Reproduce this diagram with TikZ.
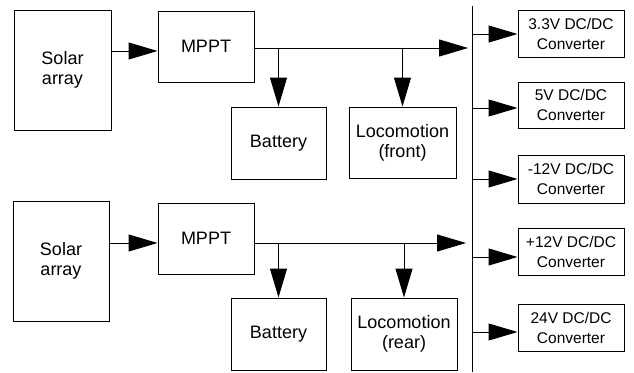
\documentclass[tikz,border=0pt]{standalone}
\usepackage{fontspec}
\setmainfont{Liberation Sans}
\usetikzlibrary{arrows.meta}
\begin{document}
\begin{tikzpicture}[x=1pt,y=-1pt,
  box/.style={draw,line width=1pt,align=center,inner sep=0pt,
    font=\fontsize{18}{20}\selectfont},
  conv/.style={draw,line width=1pt,align=center,inner sep=0pt,
    minimum width=106pt,font=\fontsize{15.5}{20}\selectfont},
  arr/.style={line width=1pt,-{Triangle[length=29pt,width=17pt]}},
  ln/.style={line width=1pt}]
\useasboundingbox (0,0) rectangle (634,372);
% top chain
\node[box,minimum width=97pt,minimum height=120pt] (sa1) at (62.5,70) {Solar\\array};
\node[box,minimum width=96pt,minimum height=71pt] (mp1) at (206,46.5) {MPPT};
\node[box,minimum width=95pt,minimum height=72pt] (bat1) at (278.5,143) {Battery};
\node[box,minimum width=107pt,minimum height=71pt] (loc1) at (402.5,142.5) {Locomotion\\(front)};
% bottom chain
\node[box,minimum width=96pt,minimum height=120pt] (sa2) at (61,261) {Solar\\array};
\node[box,minimum width=96pt,minimum height=71pt] (mp2) at (206,238.5) {MPPT};
\node[box,minimum width=95pt,minimum height=72pt] (bat2) at (278.5,334) {Battery};
\node[box,minimum width=106pt,minimum height=72pt] (loc2) at (404,334) {Locomotion\\(rear)};
% converters
\node[conv,minimum height=47pt] (c1) at (571,33.5) {3.3V DC/DC\\Converter};
\node[conv,minimum height=46pt] (c2) at (571,105) {5V DC/DC\\Converter};
\node[conv,minimum height=48pt] (c3) at (571,179) {-12V DC/DC\\Converter};
\node[conv,minimum height=47pt] (c4) at (571,251.5) {+12V DC/DC\\Converter};
\node[conv,minimum height=47pt] (c5) at (571,327.5) {24V DC/DC\\Converter};
% bus
\coordinate (bustop) at (472,6);
\coordinate (busbot) at (472,372);
\draw[ln] (bustop) -- (busbot);
% top connections
\coordinate (s1) at (0,51);
\draw[arr] (sa1.east |- s1) -- (mp1.west |- s1);
\coordinate (o1) at (0,48);
\coordinate (t1) at (468,48);
\draw[arr] (mp1.east |- o1) -- (t1);
\draw[arr] (bat1.north |- o1) -- (bat1.north);
\draw[arr] (loc1.north |- o1) -- (loc1.north);
% bottom connections
\coordinate (s2) at (0,243);
\draw[arr] (sa2.east |- s2) -- (mp2.west |- s2);
\coordinate (t2) at (466,243);
\draw[arr] (mp2.east |- s2) -- (t2);
\draw[arr] (bat2.north |- s2) -- (bat2.north);
\draw[arr] (loc2.north |- s2) -- (loc2.north);
% converter feeds
\coordinate (a1) at (472,34);
\coordinate (a2) at (472,108);
\coordinate (a3) at (472,179);
\coordinate (a4) at (472,257);
\coordinate (a5) at (472,332);
\draw[arr] (a1) -- (a1 -| c1.west);
\draw[arr] (a2) -- (a2 -| c2.west);
\draw[arr] (a3) -- (a3 -| c3.west);
\draw[arr] (a4) -- (a4 -| c4.west);
\draw[arr] (a5) -- (a5 -| c5.west);
\end{tikzpicture}
\end{document}
